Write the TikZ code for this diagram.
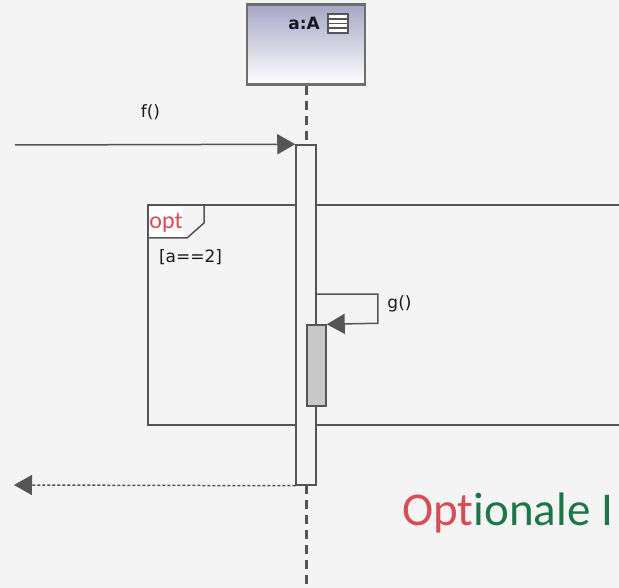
\documentclass[tikz,border=0pt]{standalone}
\usepackage{fontspec}
\setmainfont{DejaVu Sans}
\newfontfamily\calfont{Carlito}
\usetikzlibrary{arrows.meta}
\definecolor{bg}{RGB}{244,244,244}
\definecolor{ln}{RGB}{85,85,85}
\definecolor{boxln}{RGB}{110,110,110}
\definecolor{optred}{RGB}{217,76,86}
\definecolor{optgreen}{RGB}{30,118,72}
\definecolor{lav}{RGB}{166,166,198}
\definecolor{actgray}{RGB}{200,200,200}
\definecolor{txt}{RGB}{25,25,35}
\begin{document}
\begin{tikzpicture}[x=1pt,y=-1pt,
  msg/.style={draw=ln,line width=1.5pt,-{Triangle[length=18pt,width=20pt]}},
  ret/.style={draw=ln,line width=1.5pt,dash pattern=on 3pt off 2pt,-{Triangle[length=18pt,width=20pt]}},
  life/.style={draw=ln,line width=3pt,dash pattern=on 9pt off 6pt},
  actbox/.style={draw=ln,line width=1.5pt,fill=bg,inner sep=0pt},
  small/.style={font=\fontsize{17}{20}\selectfont,text=txt,inner sep=0pt}
]
\path[fill=bg,use as bounding box] (0,0) rectangle (619,588);
\clip (0,0) rectangle (619,588);

% combined fragment
\draw[ln,line width=2pt] (148,205) rectangle (660,425);
\node[fill=white,inner sep=0pt,minimum width=34pt,minimum height=31pt,
      text=optred,font=\calfont\fontsize{24}{28}\selectfont] (optlbl) at (166,222.5) {opt};
\draw[ln,line width=1.5pt] (148,238) -- (187,238) -- (204,223) -- (204,205);
\node[small] (guard) at (190.5,257.5) {[a==2]};

% object and lifeline
\node[draw=boxln,line width=2.5pt,top color=lav,bottom color=white,
      minimum width=118pt,minimum height=80pt,inner sep=0pt] (obj) at (306,44.5) {};
\node[font=\bfseries\fontsize{17}{20}\selectfont,text=txt,inner sep=0pt] (objname) at (304,23.5) {a:A};
\node[draw=ln,fill=white,line width=1.5pt,minimum width=20pt,minimum height=19pt,inner sep=0pt] (icon) at (338,23.5) {};
\draw[ln,line width=1.5pt] (icon.west) -- (icon.east);
\draw[ln,line width=1.5pt] ([yshift=4.7pt]icon.west) -- ([yshift=4.7pt]icon.east);
\draw[ln,line width=1.5pt] ([yshift=-4.7pt]icon.west) -- ([yshift=-4.7pt]icon.east);

\coordinate (llend) at (306,600);
\coordinate (actc) at (306,315);
\draw[life] (obj.south) -- (actc |- 0,145);
\draw[life] (actc |- 0,485) -- (llend);
\node[actbox,minimum width=20pt,minimum height=340pt] (act) at (actc) {};
\node[draw=ln,line width=1.5pt,fill=actgray,minimum width=19pt,minimum height=81pt,inner sep=0pt] (act2) at (316.5,365.5) {};

% messages
\coordinate (fstart) at (15,145);
\coordinate (rend) at (14,485);
\draw[msg] (fstart) -- (act.north west);
\node[small] (flbl) at (150.5,112.5) {f()};
\draw[msg] (act.north east) ++(0,150) -- ++(61,0) -- ++(0,29) -- (act2.north east);
\node[small] (glbl) at (399.5,303.5) {g()};
\draw[ret] (act.south west) -- (rend);

% caption
\node[anchor=base west,inner sep=0pt,font=\calfont\fontsize{47}{56}\selectfont] (cap) at (402,525)
  {\textcolor{optred}{Opt}\textcolor{optgreen}{ionale I}};
\end{tikzpicture}
\end{document}
